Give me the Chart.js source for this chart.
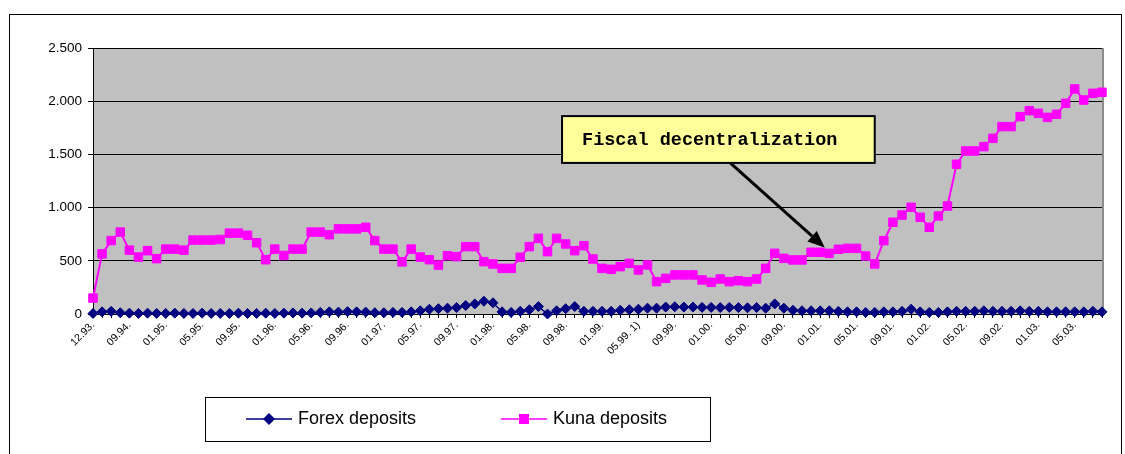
<!DOCTYPE html>
<html>
<head>
<meta charset="utf-8">
<script src="https://cdn.jsdelivr.net/npm/chart.js@4.4.0/dist/chart.umd.min.js"></script>
<style>
  html, body { margin: 0; padding: 0; background: #fff; }
</style>
</head>
<body>
<canvas id="lineChart" width="1125" height="454"></canvas>
<script>
// month labels (only every 4th one is printed on the axis)
const months = [
  '12.93.', '06.94.', '07.94.', '08.94.',
  '09.94.', '10.94.', '11.94.', '12.94.',
  '01.95.', '02.95.', '03.95.', '04.95.', '05.95.', '06.95.', '07.95.', '08.95.', '09.95.', '10.95.', '11.95.', '12.95.',
  '01.96.', '02.96.', '03.96.', '04.96.', '05.96.', '06.96.', '07.96.', '08.96.', '09.96.', '10.96.', '11.96.', '12.96.',
  '01.97.', '02.97.', '03.97.', '04.97.', '05.97.', '06.97.', '07.97.', '08.97.', '09.97.', '10.97.', '11.97.', '12.97.',
  '01.98.', '02.98.', '03.98.', '04.98.', '05.98.', '06.98.', '07.98.', '08.98.', '09.98.', '10.98.', '11.98.', '12.98.',
  '01.99.', '02.99.', '03.99.', '04.99.', '05.99. 1)', '06.99.', '07.99.', '08.99.', '09.99.', '10.99.', '11.99.', '12.99.',
  '01.00.', '02.00.', '03.00.', '04.00.', '05.00.', '06.00.', '07.00.', '08.00.', '09.00.', '10.00.', '11.00.', '12.00.',
  '01.01.', '02.01.', '03.01.', '04.01.', '05.01.', '06.01.', '07.01.', '08.01.', '09.01.', '10.01.', '11.01.', '12.01.',
  '01.02.', '02.02.', '03.02.', '04.02.', '05.02.', '06.02.', '07.02.', '08.02.', '09.02.', '10.02.', '11.02.', '12.02.',
  '01.03.', '02.03.', '03.03.', '04.03.', '05.03.', '06.03.', '07.03.', '08.03.'
];

const forexDeposits = [
  5, 20, 25, 12, 8, 5, 8, 5, 5, 8, 5, 5, 8, 5, 5, 5, 8, 5, 5, 8,
  5, 8, 10, 8, 10, 15, 20, 18, 22, 20, 18, 12, 12, 15, 15, 20, 30, 45, 50, 55,
  60, 80, 95, 120, 105, 20, 15, 25, 40, 70, 0, 30, 50, 70, 25, 25, 25, 25, 35, 40,
  45, 55, 55, 65, 68, 65, 65, 62, 62, 60, 62, 60, 58, 60, 55, 95, 55, 35, 30, 30,
  30, 30, 25, 20, 20, 15, 15, 20, 20, 25, 45, 20, 15, 15, 20, 25, 25, 25, 30, 25,
  25, 25, 30, 25, 25, 20, 20, 20, 20, 20, 25, 20
];

const kunaDeposits = [
  150, 565, 690, 770, 600, 535, 595, 520, 610, 610, 600, 695, 695, 695, 700, 760, 760, 740, 670, 510,
  610, 550, 610, 610, 770, 770, 745, 800, 800, 800, 815, 690, 610, 610, 490, 610, 535, 510, 460, 548,
  539, 633, 633, 492, 470, 429, 429, 533, 633, 711, 586, 711, 658, 595, 642, 517, 429, 420, 445, 476,
  414, 461, 304, 335, 367, 367, 367, 320, 298, 329, 304, 313, 304, 329, 429, 570, 523, 508, 508, 580,
  580, 570, 608, 617, 617, 545, 470, 689, 862, 930, 1003, 909, 815, 921, 1015, 1407, 1532, 1532, 1573, 1651,
  1761, 1761, 1855, 1911, 1886, 1848, 1877, 1980, 2115, 2011, 2074, 2084
];

const yTicks = [0, 500, 1000, 1500, 2000, 2500];
const noteText = 'Fiscal decentralization';

// thousands with a dot, like 1.500
function fmt(v) {
  if (v < 1000) return String(v);
  return Math.floor(v / 1000) + '.' + String(v % 1000).padStart(3, '0');
}

const frame = {
  id: 'frame',
  beforeDraw(chart) {
    const ctx = chart.ctx, a = chart.chartArea;
    ctx.save();
    ctx.fillStyle = '#fff';
    ctx.fillRect(0, 0, chart.width, chart.height);
    ctx.strokeStyle = '#000';
    ctx.lineWidth = 1;
    ctx.strokeRect(9.5, 14.5, 1112, 500);
    ctx.fillStyle = '#c0c0c0';
    ctx.fillRect(a.left, a.top, a.right - a.left, a.bottom - a.top);
    ctx.strokeStyle = '#8c8c8c';
    ctx.lineWidth = 2;
    ctx.beginPath();
    ctx.moveTo(a.right + 1, a.top);
    ctx.lineTo(a.right + 1, a.bottom);
    ctx.stroke();
    ctx.restore();
  },
  afterDraw(chart) {
    const ctx = chart.ctx;
    const xs = chart.scales.x, ys = chart.scales.y;
    ctx.save();

    // annotation box
    const bx0 = xs.getPixelForValue(51.6), bx1 = xs.getPixelForValue(86);
    const by0 = ys.getPixelForValue(1860), by1 = ys.getPixelForValue(1420);
    ctx.fillStyle = '#ffff99';
    ctx.fillRect(bx0, by0, bx1 - bx0, by1 - by0);
    ctx.strokeStyle = '#000';
    ctx.lineWidth = 2;
    ctx.strokeRect(bx0, by0, bx1 - bx0, by1 - by0);
    ctx.fillStyle = '#000';
    ctx.font = 'bold 18.5px "Liberation Mono", "DejaVu Sans Mono", monospace';
    ctx.textBaseline = 'middle';
    ctx.textAlign = 'left';
    ctx.fillText(noteText, bx0 + 20, (by0 + by1) / 2 + 1);

    // arrow
    const sx = xs.getPixelForValue(70.1), sy = by1;
    const tx = xs.getPixelForValue(80.5), ty = ys.getPixelForValue(625);
    const ang = Math.atan2(ty - sy, tx - sx);
    const hl = 17, hw = 7;
    const bxp = tx - hl * Math.cos(ang), byp = ty - hl * Math.sin(ang);
    ctx.lineWidth = 3;
    ctx.beginPath();
    ctx.moveTo(sx, sy);
    ctx.lineTo(bxp, byp);
    ctx.stroke();
    ctx.beginPath();
    ctx.moveTo(tx, ty);
    ctx.lineTo(bxp + hw * Math.sin(ang), byp - hw * Math.cos(ang));
    ctx.lineTo(bxp - hw * Math.sin(ang), byp + hw * Math.cos(ang));
    ctx.closePath();
    ctx.fill();

    // legend
    ctx.lineWidth = 1;
    ctx.strokeStyle = '#000';
    ctx.strokeRect(205.5, 397.5, 505, 44);
    const ly = 419;
    const items = chart.data.datasets;
    const lx = [246, 501];
    ctx.font = '18px "Liberation Sans", Arial, sans-serif';
    items.forEach((ds, i) => {
      const x0 = lx[i], x1 = x0 + 46, mx = (x0 + x1) / 2;
      ctx.strokeStyle = ds.borderColor;
      ctx.lineWidth = 1.5;
      ctx.beginPath();
      ctx.moveTo(x0, ly);
      ctx.lineTo(x1, ly);
      ctx.stroke();
      ctx.fillStyle = ds.borderColor;
      ctx.beginPath();
      if (ds.pointStyle === 'rectRot') {
        ctx.moveTo(mx, ly - 6);
        ctx.lineTo(mx + 6, ly);
        ctx.lineTo(mx, ly + 6);
        ctx.lineTo(mx - 6, ly);
      } else {
        ctx.rect(mx - 5, ly - 5, 10, 10);
      }
      ctx.closePath();
      ctx.fill();
      ctx.fillStyle = '#000';
      ctx.fillText(ds.label, x1 + 6, ly);
    });
    ctx.restore();
  }
};

new Chart(document.getElementById('lineChart'), {
  type: 'line',
  data: {
    labels: months,
    datasets: [
      {
        label: 'Forex deposits',
        data: forexDeposits,
        borderColor: '#000080',
        backgroundColor: '#000080',
        borderWidth: 1.5,
        pointStyle: 'rectRot',
        pointRadius: 5,
        pointBorderWidth: 1,
        fill: false,
        clip: false
      },
      {
        label: 'Kuna deposits',
        data: kunaDeposits,
        borderColor: '#ff00ff',
        backgroundColor: '#ff00ff',
        borderWidth: 2,
        pointStyle: 'rect',
        pointRadius: 6,
        pointBorderWidth: 1,
        fill: false,
        clip: false
      }
    ]
  },
  options: {
    responsive: false,
    animation: false,
    layout: { padding: { left: 0, top: 48, right: 23, bottom: 0 } },
    plugins: {
      legend: { display: false },
      tooltip: { enabled: false }
    },
    scales: {
      x: {
        offset: false,
        afterFit(s) { s.height = 140; },
        grid: { drawOnChartArea: false, color: '#000', tickLength: 4 },
        border: { color: '#000', width: 1 },
        ticks: {
          autoSkip: false,
          minRotation: 45,
          maxRotation: 45,
          padding: 1,
          color: '#000',
          font: { family: '"Liberation Sans", Arial, sans-serif', size: 10.5 },
          callback: function (v, i) { return i % 4 === 0 ? this.getLabelForValue(v) : ''; }
        }
      },
      y: {
        min: yTicks[0],
        max: yTicks[yTicks.length - 1],
        afterFit(s) { s.width = 93; },
        afterBuildTicks(s) { s.ticks = yTicks.map(v => ({ value: v })); },
        grid: { color: '#000', lineWidth: 1, tickLength: 5 },
        border: { color: '#000', width: 1 },
        ticks: {
          padding: 6,
          color: '#000',
          font: { family: '"Liberation Sans", Arial, sans-serif', size: 13.5 },
          callback: v => fmt(v)
        }
      }
    }
  },
  plugins: [frame]
});
</script>
</body>
</html>
